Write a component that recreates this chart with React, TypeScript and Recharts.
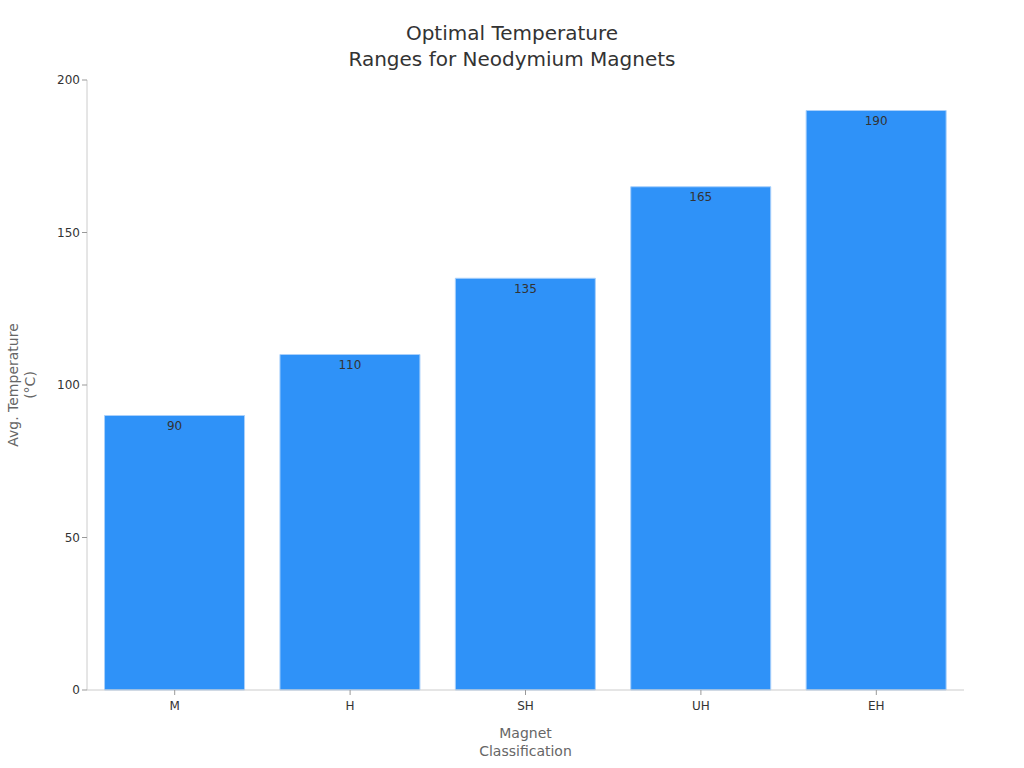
import React from 'react';
import { BarChart, Bar, XAxis, YAxis, LabelList, Label } from 'recharts';

const categories = ['M', 'H', 'SH', 'UH', 'EH'];
const avgTemps = [90, 110, 135, 165, 190];
const yTicks = [0, 50, 100, 150, 200];

const data = categories.map((name, i) => ({ name, temp: avgTemps[i] }));

const font = 'DejaVu Sans, sans-serif';

const XTitle = (props: any) => {
    const { viewBox } = props;
    const cx = viewBox.x + viewBox.width / 2;
    return (
        <text x={cx} y={738} textAnchor="middle" fill="#666" fontSize={14} fontFamily={font}>
            <tspan x={cx}>Magnet</tspan>
            <tspan x={cx} dy={18}>Classification</tspan>
        </text>
    );
};

const YTitle = (props: any) => {
    const { viewBox } = props;
    const cy = viewBox.y + viewBox.height / 2;
    return (
        <text
            x={0}
            y={0}
            textAnchor="middle"
            fill="#666"
            fontSize={14}
            fontFamily={font}
            transform={`translate(18, ${cy}) rotate(-90)`}
        >
            <tspan x={0}>Avg. Temperature</tspan>
            <tspan x={0} dy={17}>(°C)</tspan>
        </text>
    );
};

const App = () => {
    return (
        <div style={{ position: 'absolute', left: 0, top: 0, width: 1024, height: 768, fontFamily: font }}>
            <div
                style={{
                    position: 'absolute',
                    left: 0,
                    top: 20,
                    width: 1024,
                    textAlign: 'center',
                    fontSize: 20,
                    lineHeight: '26px',
                    color: '#333',
                }}
            >
                Optimal Temperature
                <br />
                Ranges for Neodymium Magnets
            </div>
            <BarChart
                width={1024}
                height={768}
                data={data}
                margin={{ top: 80, right: 60, left: 27, bottom: 0 }}
                barCategoryGap="10%"
            >
                <XAxis
                    dataKey="name"
                    height={78}
                    stroke="#ccc"
                    tick={{ fill: '#333', fontSize: 12 }}
                    tickLine={{ stroke: '#999' }}
                    tickSize={5}
                    tickMargin={6}
                >
                    <Label content={<XTitle />} />
                </XAxis>
                <YAxis
                    width={60}
                    domain={[0, 200]}
                    ticks={yTicks}
                    stroke="#ccc"
                    tick={{ fill: '#333', fontSize: 12 }}
                    tickLine={{ stroke: '#999' }}
                    tickSize={5}
                >
                    <Label content={<YTitle />} />
                </YAxis>
                <Bar dataKey="temp" fill="#2f92f8" stroke="#a9d0fb" strokeWidth={1} isAnimationActive={false}>
                    <LabelList dataKey="temp" position="insideTop" offset={6} fill="#333" fontSize={12} />
                </Bar>
            </BarChart>
        </div>
    );
};

export default App;
